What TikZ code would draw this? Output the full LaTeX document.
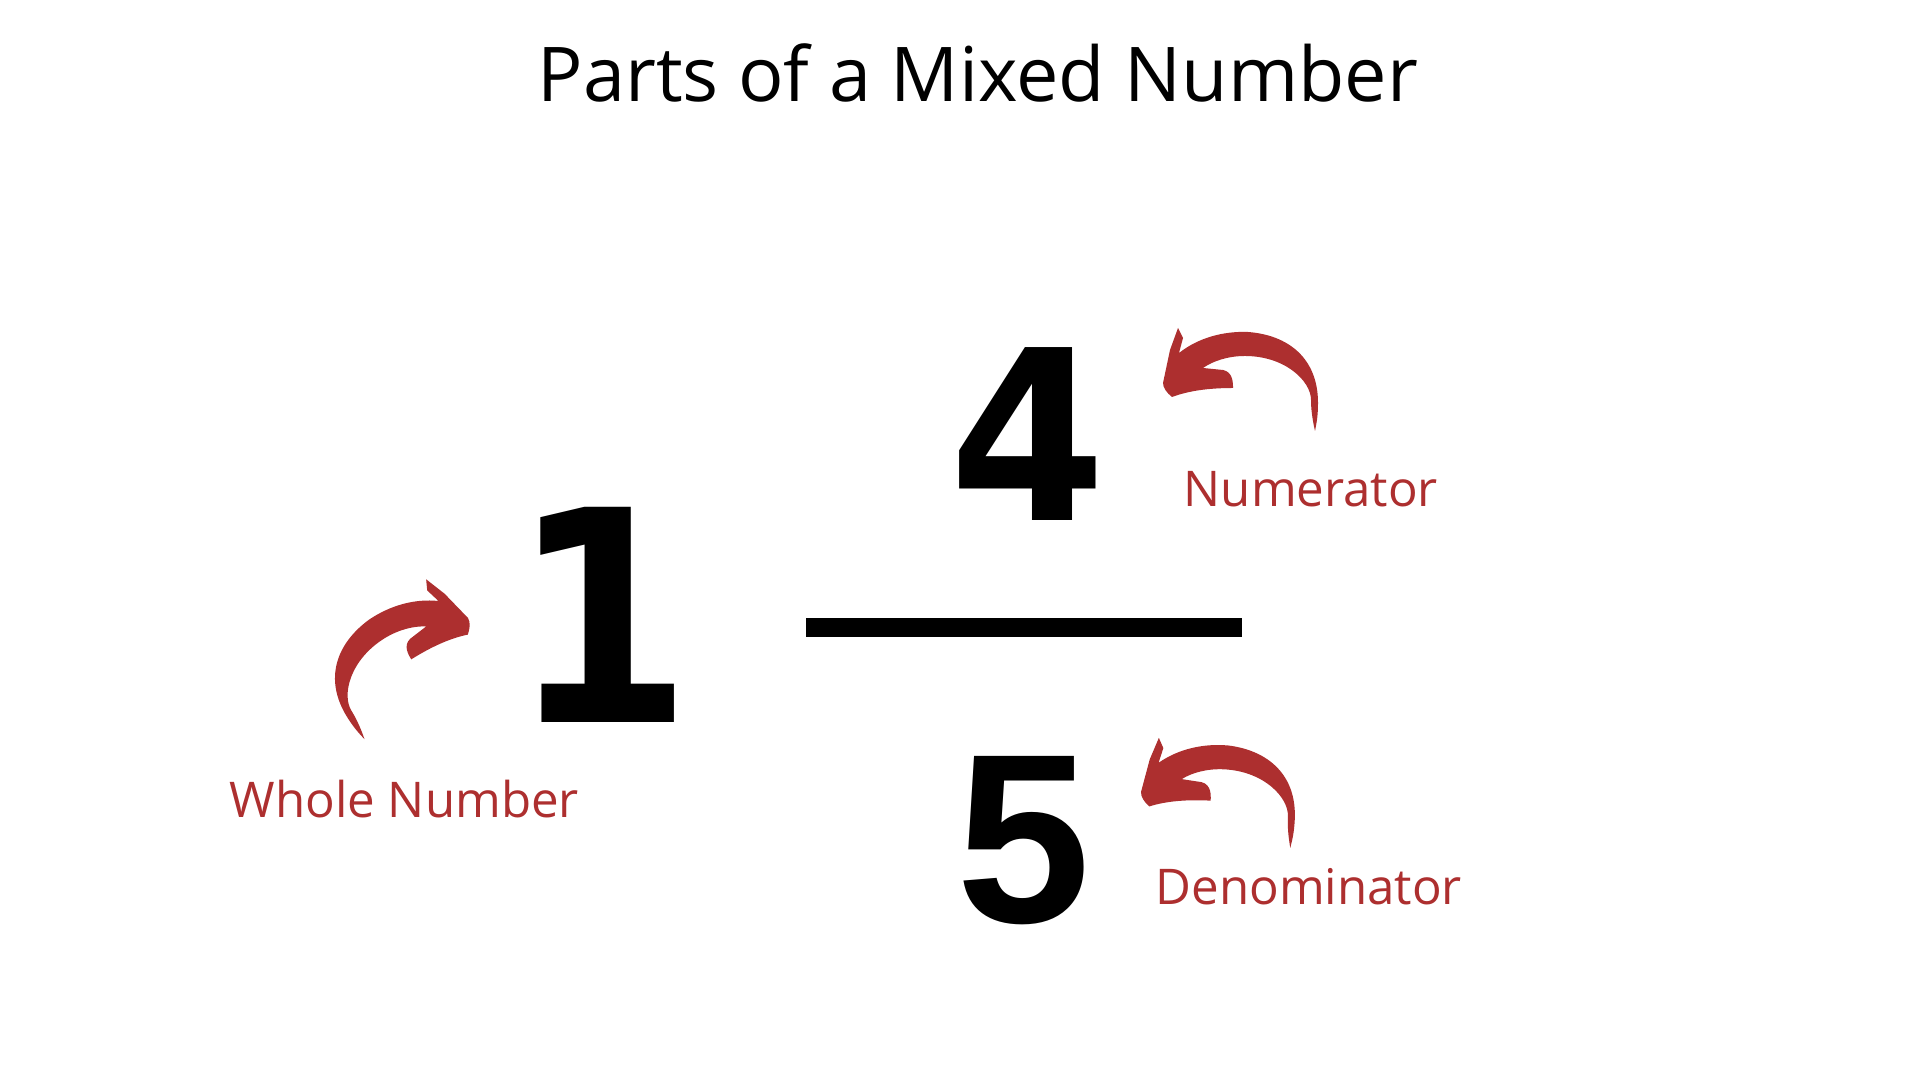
\documentclass[tikz,border=0pt]{standalone}
\usepackage{fontspec}
\setmainfont{Open Sans}
\newfontfamily\digitfont{DejaVu Sans}
\newfontfamily\fivefont{Liberation Sans}
\usetikzlibrary{positioning}

\definecolor{partred}{RGB}{173,47,47}

\tikzset{
    pics/curlarrow/.style={code={
        \fill[partred] (0,0) -- (0.07,0.33) -- (0.15,0.55) -- (0.20,0.45) -- (0.16,0.30)
            .. controls (0.35,0.45) and (0.60,0.52) .. (0.85,0.51)
            .. controls (1.25,0.48) and (1.55,0.25) .. (1.55,-0.20)
            .. controls (1.55,-0.35) and (1.53,-0.42) .. (1.52,-0.48)
            .. controls (1.49,-0.35) and (1.48,-0.25) .. (1.48,-0.17)
            .. controls (1.48,0.02) and (1.22,0.27) .. (0.82,0.27)
            .. controls (0.65,0.27) and (0.50,0.22) .. (0.40,0.15)
            -- (0.60,0.13) .. controls (0.70,0.11) and (0.70,0) .. (0.70,-0.05)
            .. controls (0.45,-0.05) and (0.25,-0.08) .. (0.09,-0.14)
            .. controls (0.04,-0.10) and (0,-0.05) .. cycle;
    }}
}

\begin{document}
\begin{tikzpicture}[
        heading/.style={font=\fontsize{21.5}{26}\selectfont, inner sep=0pt, anchor=base west},
        partname/.style={font=\fontsize{14}{17}\selectfont, text=partred, inner sep=0pt, anchor=base west},
        digit/.style={font=\digitfont\bfseries\fontsize{67.5}{80}\selectfont, inner sep=0pt, anchor=base},
        bigdigit/.style={font=\digitfont\bfseries\fontsize{84}{100}\selectfont, inner sep=0pt, anchor=base},
        fivedigit/.style={font=\fivefont\bfseries\fontsize{68.7}{80}\selectfont, inner sep=0pt, anchor=base},
        fracbar/.style={fill=black, inner sep=0pt, minimum width=4.36cm, minimum height=0.19cm}]

    % Canvas
    \fill[white] (0,0) rectangle (19.2,10.8);
    \useasboundingbox (0,0) rectangle (19.2,10.8);

    % Title
    \node[heading] (title) at (5.37,9.78) {Parts of a Mixed Number};

    % The mixed number
    \node[bigdigit] (whole) at (6.02,3.57) {\scalebox{0.88}[1]{1}};
    \node[digit] (num) at (10.28,5.59) {\scalebox{0.95}[1]{4}};
    \node[fracbar] (bar) at (10.24,4.525) {};
    \node[fivedigit] (den) at (10.24,1.57) {5};

    % Curved arrows
    \pic at (11.63,6.97) {curlarrow};
    \pic[rotate=-3] at (11.41,2.88) {curlarrow};
    \pic[rotate=32, xscale=-1] at (4.68,4.62) {curlarrow};

    % Part names
    \node[partname] (numlabel) at (11.83,5.73) {Numerator};
    \node[partname] (denlabel) at (11.55,1.75) {Denominator};
    \node[partname] (wholelabel) at (2.29,2.62) {Whole Number};

\end{tikzpicture}
\end{document}
